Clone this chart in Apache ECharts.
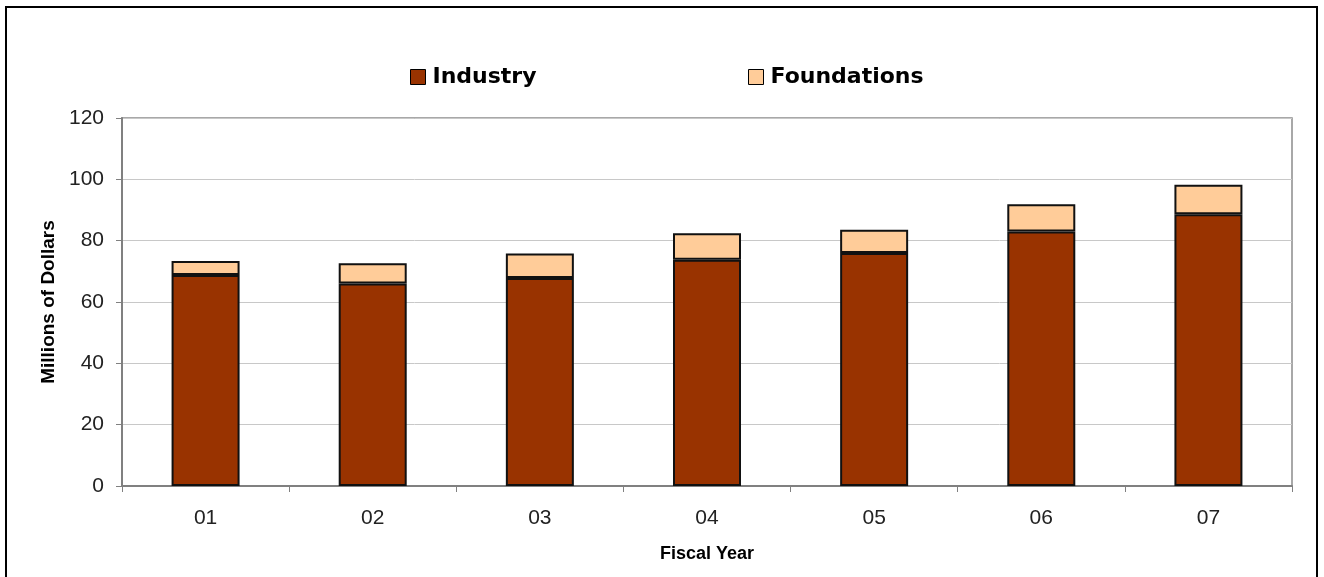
<!DOCTYPE html>
<html><head><meta charset="utf-8">
<script src="https://cdn.jsdelivr.net/npm/echarts@6/dist/echarts.min.js"></script>
<style>html,body{margin:0;padding:0;background:#fff}#c{width:1324px;height:577px}</style>
</head><body><div id="c"></div>
<script>
const categories = ['01','02','03','04','05','06','07'];
const industry = [68.8, 66.0, 67.8, 73.8, 76.0, 83.0, 88.6];
const foundations = [4.6, 6.6, 8.0, 8.6, 7.6, 8.9, 9.6];
const yTicks = {min: 0, max: 120, interval: 20};

const chart = echarts.init(document.getElementById('c'));
const font = 'Liberation Sans, Arial, sans-serif';
const legendText = {fontFamily: 'DejaVu Sans, sans-serif', fontSize: 22, fontWeight: 'bold', color: '#000', padding: [0,0,0,2]};
chart.setOption({
  animation: false,
  graphic: [{type:'rect', shape:{x:6,y:7,width:1311,height:600}, style:{fill:'none', stroke:'#000', lineWidth:2}, silent:true}],
  legend: [
    {data: ['Industry'], left: 410, top: 66, padding: 0, itemWidth: 15, itemHeight: 15, icon: 'rect', textStyle: legendText,
     itemStyle: {borderColor: '#000', borderWidth: 1}},
    {data: ['Foundations'], left: 748, top: 66, padding: 0, itemWidth: 15, itemHeight: 15, icon: 'rect', textStyle: legendText,
     itemStyle: {borderColor: '#000', borderWidth: 1}}
  ],
  grid: {left: 122, right: 32, top: 118, bottom: 91, show: true, borderColor: '#8c8c8c', borderWidth: 1.5, backgroundColor: 'transparent'},
  xAxis: {
    type: 'category', data: categories,
    name: 'Fiscal Year', nameLocation: 'middle', nameGap: 59,
    nameTextStyle: {fontFamily: font, fontSize: 18, fontWeight: 'bold', color: '#000'},
    axisLine: {lineStyle: {color: '#808080', width: 2}},
    axisTick: {show: true, length: 6, lineStyle: {color: '#808080'}},
    axisLabel: {fontFamily: font, fontSize: 21, color: '#222', margin: 22}
  },
  yAxis: {
    type: 'value', min: yTicks.min, max: yTicks.max, interval: yTicks.interval,
    name: 'Millions of Dollars', nameLocation: 'middle', nameGap: 64, nameRotate: 90,
    nameTextStyle: {fontFamily: font, fontSize: 19, fontWeight: 'bold', color: '#000'},
    axisLine: {show: true, lineStyle: {color: '#808080', width: 2}},
    axisTick: {show: true, length: 6, lineStyle: {color: '#808080'}},
    axisLabel: {fontFamily: font, fontSize: 21, color: '#222', margin: 18},
    splitLine: {lineStyle: {color: '#c8c8c8', width: 1}}
  },
  series: [
    {name: 'Industry', type: 'bar', stack: 't', data: industry, barWidth: 68,
     itemStyle: {color: '#993300', borderColor: '#111', borderWidth: 2}},
    {name: 'Foundations', type: 'bar', stack: 't', data: foundations, barWidth: 68,
     itemStyle: {color: '#ffcc99', borderColor: '#111', borderWidth: 2}}
  ]
});
</script></body></html>
